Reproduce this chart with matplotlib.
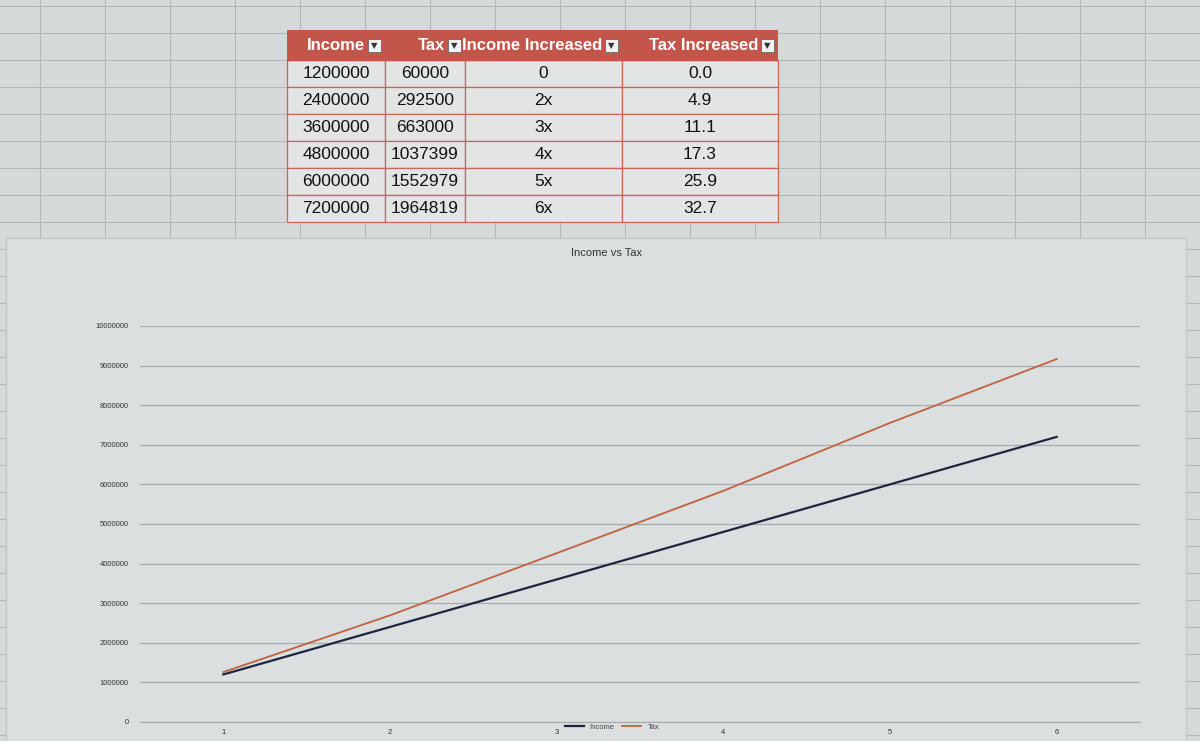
import matplotlib.pyplot as plt
import numpy as np
from matplotlib.patches import Rectangle

# table data
income = [1200000, 2400000, 3600000, 4800000, 6000000, 7200000]
tax = [60000, 292500, 663000, 1037399, 1552979, 1964819]
income_increased = ["0", "2x", "3x", "4x", "5x", "6x"]
tax_increased = [0.0, 4.9, 11.1, 17.3, 25.9, 32.7]
headers = ["Income", "Tax", "Income Increased", "Tax Increased"]
categories = [1, 2, 3, 4, 5, 6]

W, H = 1200, 741
fig = plt.figure(figsize=(12, 7.41), dpi=100)
fig.patch.set_facecolor("#d6d9d9")
plt.rcParams["font.family"] = ["Liberation Sans", "DejaVu Sans"]

def px_axes(x0, y0, x1, y1):
    # pixel box (top-left origin) -> figure axes
    return fig.add_axes([x0 / W, 1 - y1 / H, (x1 - x0) / W, (y1 - y0) / H])

# spreadsheet grid in the background
bg = px_axes(0, 0, W, H)
bg.set_xlim(0, W)
bg.set_ylim(H, 0)
bg.axis("off")
for gx in np.arange(40, W, 65):
    bg.axvline(gx, color="#b3b7b7", lw=0.8)
for gy in np.arange(6, H, 27):
    bg.axhline(gy, color="#b3b7b7", lw=0.8)

# chart panel
bg.add_patch(Rectangle((6, 238), 1180, 510, facecolor="#dcdfdf",
                       edgecolor="#c4c7c7", lw=1, zorder=3))

# the table (header drawn by hand so the dropdown boxes fit)
col_w = [98, 80, 157, 156]
tab_ax = px_axes(287, 30, 778, 222)
tab_ax.set_xlim(0, sum(col_w))
tab_ax.set_ylim(192, 0)
tab_ax.axis("off")
cells = [[str(income[i]), str(tax[i]), income_increased[i], f"{tax_increased[i]:.1f}"]
         for i in range(len(income))]
tbl = tab_ax.table(cellText=cells, bbox=[0, 0, 1, 162 / 192],
                   colWidths=col_w, cellLoc="center")
tbl.auto_set_font_size(False)
for (r, c), cell in tbl.get_celld().items():
    cell.set_facecolor("#e3e5e5")
    cell.set_edgecolor("#c9645a")
    cell.set_linewidth(0.9)
    cell.get_text().set_fontsize(12.5)
    cell.get_text().set_color("#111111")

tab_ax.add_patch(Rectangle((0, 0), sum(col_w), 30, facecolor="#c4554a",
                           edgecolor="#c4554a", zorder=4))
x_edges = np.cumsum([0] + col_w)
for i, name in enumerate(headers):
    right = x_edges[i + 1]
    tab_ax.text(right - 20, 15, name, ha="right", va="center", fontsize=12,
                fontweight="bold", color="white", zorder=5)
    tab_ax.add_patch(Rectangle((right - 17, 9), 13, 13, facecolor="#f2f2f2",
                               edgecolor="#666666", lw=0.6, zorder=5))
    tab_ax.text(right - 10.5, 15.5, "▼", fontsize=6, ha="center", va="center",
                color="#333333", zorder=6, family="DejaVu Sans")

# the chart
ax = px_axes(140, 326, 1140, 722)
ax.set_facecolor("none")
ax.plot(categories, income, color="#1c2640", lw=1.6, label="Income")
ax.plot(categories, np.array(income) + np.array(tax), color="#c0613f", lw=1.3, label="Tax")
ax.set_xlim(0.5, 6.5)
ax.set_ylim(0, 10000000)
ax.set_yticks(np.arange(0, 10000001, 1000000))
ax.set_yticklabels([str(v) for v in range(0, 10000001, 1000000)])
ax.set_xticks(categories)
ax.grid(axis="y", color="#a7abab", lw=0.9)
ax.set_axisbelow(True)
for s in ["top", "right", "left"]:
    ax.spines[s].set_visible(False)
ax.spines["bottom"].set_color("#a7abab")
ax.tick_params(axis="both", length=0, labelsize=5.5, colors="#333333")
ax.tick_params(axis="y", pad=8)
ax.tick_params(axis="x", pad=5)

fig.text(607 / W, 1 - 253 / H, "Income vs Tax", ha="center", va="center",
         fontsize=8, color="#333333")
fig.legend(loc="center", bbox_to_anchor=(612 / W, 1 - 727 / H), ncol=2, frameon=False,
           fontsize=5.5, handlelength=2.5, columnspacing=1.0, labelcolor="#444444")

fig.savefig("out.png", dpi=100, facecolor=fig.get_facecolor())
